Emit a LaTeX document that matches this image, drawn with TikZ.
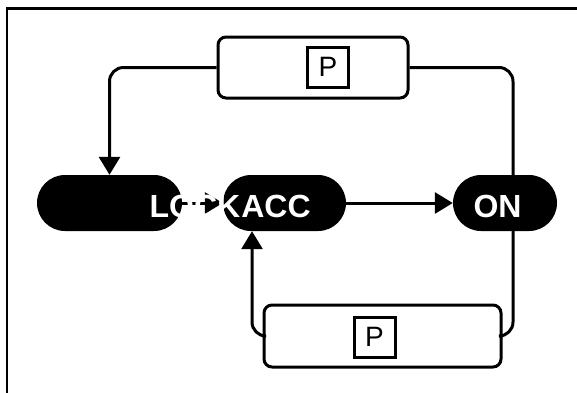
\documentclass[tikz,border=0pt]{standalone}
\usepackage{fontspec}
\setmainfont{Liberation Sans}
\usetikzlibrary{arrows.meta,shapes.misc}
\begin{document}
\begin{tikzpicture}[x=1pt,y=-1pt,
 pill/.style={rounded rectangle, fill=black, draw=none, minimum height=56pt, inner sep=0pt},
 pbox/.style={draw, line width=3pt, rounded corners=8pt, inner sep=0pt},
 keybox/.style={draw, line width=3pt, inner sep=0pt, minimum width=41pt, minimum height=40pt, font=\fontsize{28}{28}\selectfont},
 conn/.style={line width=3pt, rounded corners=14pt},
 arr/.style={conn, -{Triangle[width=21pt,length=18pt]}},
 lbl/.style={text=white, font=\bfseries\fontsize{32}{32}\selectfont, anchor=base, inner sep=0pt}]
\useasboundingbox (0,0) rectangle (577,392);
\draw[line width=2.5pt] (7,400) -- (7,8.5) -- (590,8.5);
% boxes
\node[pbox, minimum width=190pt, minimum height=61pt] (top) at (313,67.5) {};
\node[keybox] (p1) at (328,67) {P};
\node[pbox, minimum width=237pt, minimum height=62pt] (bot) at (382.5,336) {};
\node[keybox] (p2) at (374.5,337) {P};
% pills
\node[pill, minimum width=145pt] (lock) at (109.5,203) {};
\node[pill, minimum width=123pt] (acc) at (284.5,203) {};
\node[pill, minimum width=104pt] (on) at (505,203) {};
% connectors
\draw[arr] (top.west) -| (lock.north);
\draw[conn] (top.east) -| ([xshift=8pt]on.north);
\draw[conn] ([xshift=8pt]on.south) |- (bot.east);
\draw[arr] (bot.west) -| ([xshift=-32.5pt]acc.south);
\draw[arr] (acc.east) -- (on.west);
\draw[arr] (lock.east) -- (acc.west);
% labels
\node[lbl] (lockT) at (195,217) {LOCK};
\node[lbl] (accT) at (276,217) {ACC};
\node[lbl] (onT) at (497.5,217) {ON};
\end{tikzpicture}
\end{document}
